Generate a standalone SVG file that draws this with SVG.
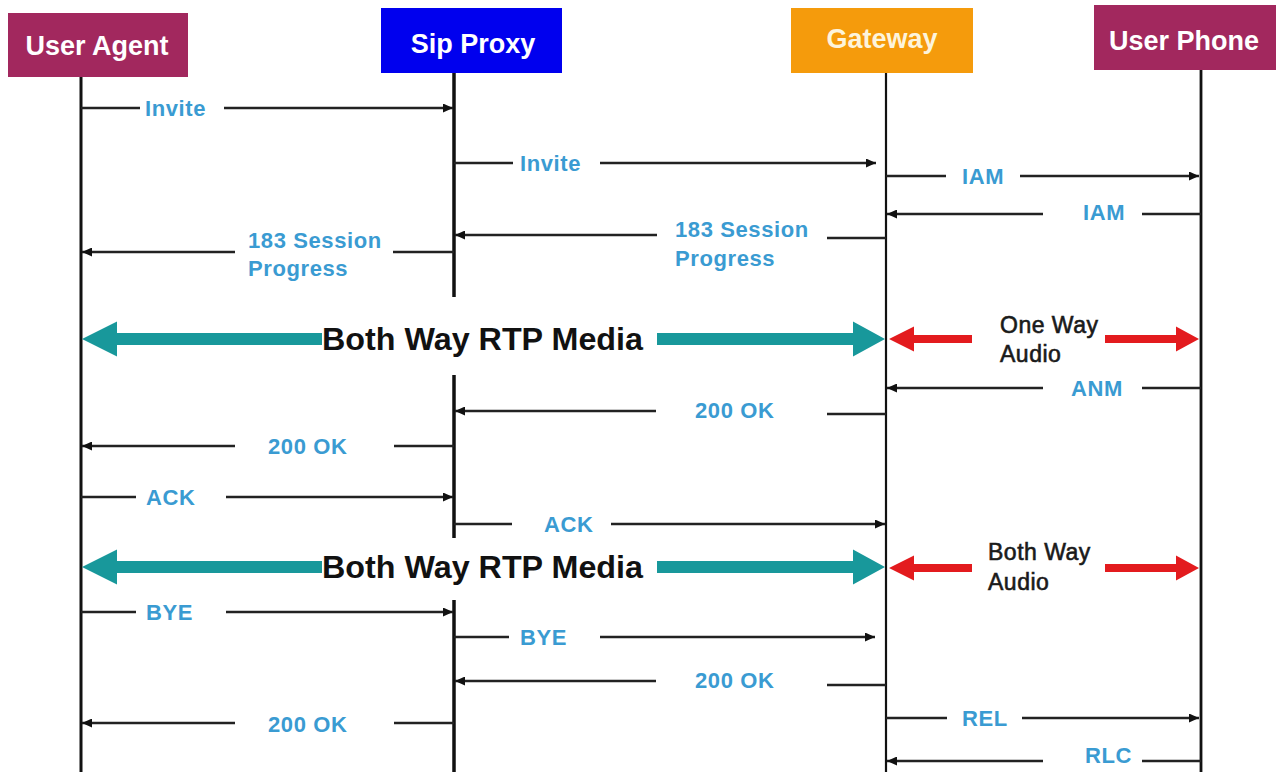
<svg xmlns="http://www.w3.org/2000/svg" width="1277" height="772" viewBox="0 0 1277 772">
<style>
.hdr{font-family:"Liberation Sans",Arial,sans-serif;font-weight:bold;font-size:27px;fill:#ffffff;text-anchor:middle}
.life{stroke:#111;fill:none}
.msg{stroke:#222;stroke-width:2.5;fill:none}
.lbl{font-family:"Liberation Sans",Arial,sans-serif;font-weight:bold;font-size:22px;letter-spacing:0.6px;fill:#3a9bd2}
.rtp{font-family:"Liberation Sans",Arial,sans-serif;font-weight:bold;font-size:32px;fill:#111}
.aud{font-family:"Liberation Sans",Arial,sans-serif;font-size:23px;letter-spacing:0.5px;fill:#1a1a1a;stroke:#1a1a1a;stroke-width:0.6}
.teal{fill:#18989b}
.red{fill:#e31b1e}
</style>
<defs>
<marker id="ah" markerUnits="userSpaceOnUse" markerWidth="10" markerHeight="9" refX="10" refY="4.5" orient="auto">
<path d="M0,0 L10,4.5 L0,9 z" fill="#111"/>
</marker>
</defs>
<rect width="1277" height="772" fill="#ffffff"/>

<g id="node-user-agent">
<rect x="8" y="13" width="180" height="64" fill="#a2285e"/>
<text class="hdr" x="97" y="55">User Agent</text>
<line class="life" x1="81" y1="77" x2="81" y2="772" stroke-width="3"/>
</g>

<g id="node-sip-proxy">
<rect x="381" y="8" width="181" height="65" fill="#0000ee"/>
<text class="hdr" x="473" y="53">Sip Proxy</text>
<line class="life" x1="454" y1="73" x2="454" y2="297" stroke-width="3.5"/>
<line class="life" x1="454" y1="375" x2="454" y2="538" stroke-width="3.5"/>
<line class="life" x1="454" y1="600" x2="454" y2="772" stroke-width="3.5"/>
</g>

<g id="node-gateway">
<rect x="791" y="8" width="182" height="65" fill="#f59b0c"/>
<text class="hdr" x="882" y="48" style="fill:#fdf4dc">Gateway</text>
<line class="life" x1="886" y1="73" x2="886" y2="772" stroke-width="2.2"/>
</g>

<g id="node-user-phone">
<rect x="1094" y="5" width="182" height="65" fill="#a2285e"/>
<text class="hdr" x="1184" y="50">User Phone</text>
<line class="life" x1="1201" y1="70" x2="1201" y2="772" stroke-width="2.8"/>
</g>

<g id="connectors">
<!-- 1 Invite UA->SP -->
<line class="msg" x1="81" y1="108" x2="140" y2="108"/>
<text class="lbl" x="145" y="116">Invite</text>
<line class="msg" x1="224" y1="108" x2="453" y2="108" marker-end="url(#ah)"/>
<!-- 2 Invite SP->GW -->
<line class="msg" x1="454" y1="163" x2="513" y2="163"/>
<text class="lbl" x="520" y="171">Invite</text>
<line class="msg" x1="600" y1="163" x2="876" y2="163" marker-end="url(#ah)"/>
<!-- 3 IAM GW->UP -->
<line class="msg" x1="886" y1="176" x2="946" y2="176"/>
<text class="lbl" x="962" y="184">IAM</text>
<line class="msg" x1="1020" y1="176" x2="1199" y2="176" marker-end="url(#ah)"/>
<!-- 4 IAM UP->GW -->
<line class="msg" x1="1201" y1="214" x2="1142" y2="214"/>
<text class="lbl" x="1083" y="220">IAM</text>
<line class="msg" x1="1043" y1="214" x2="887" y2="214" marker-end="url(#ah)"/>
<!-- 5 183 GW->SP -->
<line class="msg" x1="886" y1="238" x2="827" y2="238"/>
<text class="lbl" x="675" y="237">183 Session</text>
<text class="lbl" x="675" y="266">Progress</text>
<line class="msg" x1="657" y1="235" x2="455" y2="235" marker-end="url(#ah)"/>
<!-- 6 183 SP->UA -->
<line class="msg" x1="454" y1="252" x2="393" y2="252"/>
<text class="lbl" x="248" y="248">183 Session</text>
<text class="lbl" x="248" y="276">Progress</text>
<line class="msg" x1="235" y1="252" x2="82" y2="252" marker-end="url(#ah)"/>
<!-- 7 Both Way RTP Media 1 -->
<polygon class="teal" points="82,339 117,321.5 117,333 322,333 322,345 117,345 117,356.5"/>
<text class="rtp" x="322" y="350" textLength="321" lengthAdjust="spacingAndGlyphs">Both Way RTP Media</text>
<polygon class="teal" points="657,333 853,333 853,321.5 885,339 853,356.5 853,345 657,345"/>
<polygon class="red" points="889,339 914,326.5 914,335 972,335 972,343 914,343 914,351.5"/>
<polygon class="red" points="1105,335 1176,335 1176,326.5 1199,339 1176,351.5 1176,343 1105,343"/>
<text class="aud" x="1000" y="333">One Way</text>
<text class="aud" x="1000" y="362">Audio</text>
<!-- 8 ANM UP->GW -->
<line class="msg" x1="1201" y1="388" x2="1142" y2="388"/>
<text class="lbl" x="1071" y="396">ANM</text>
<line class="msg" x1="1043" y1="388" x2="887" y2="388" marker-end="url(#ah)"/>
<!-- 9 200 OK GW->SP -->
<line class="msg" x1="886" y1="414" x2="827" y2="414"/>
<text class="lbl" x="695" y="418">200 OK</text>
<line class="msg" x1="656" y1="411" x2="455" y2="411" marker-end="url(#ah)"/>
<!-- 10 200 OK SP->UA -->
<line class="msg" x1="454" y1="446" x2="394" y2="446"/>
<text class="lbl" x="268" y="454">200 OK</text>
<line class="msg" x1="235" y1="446" x2="82" y2="446" marker-end="url(#ah)"/>
<!-- 11 ACK UA->SP -->
<line class="msg" x1="81" y1="497" x2="136" y2="497"/>
<text class="lbl" x="146" y="505">ACK</text>
<line class="msg" x1="226" y1="497" x2="453" y2="497" marker-end="url(#ah)"/>
<!-- 12 ACK SP->GW -->
<line class="msg" x1="454" y1="524" x2="512" y2="524"/>
<text class="lbl" x="544" y="532">ACK</text>
<line class="msg" x1="611" y1="524" x2="885" y2="524" marker-end="url(#ah)"/>
<!-- 13 Both Way RTP Media 2 -->
<polygon class="teal" points="82,567 117,549.5 117,561 322,561 322,573 117,573 117,584.5"/>
<text class="rtp" x="322" y="578" textLength="321" lengthAdjust="spacingAndGlyphs">Both Way RTP Media</text>
<polygon class="teal" points="657,561 853,561 853,549.5 885,567 853,584.5 853,573 657,573"/>
<polygon class="red" points="889,568 914,555.5 914,564 972,564 972,572 914,572 914,580.5"/>
<polygon class="red" points="1105,564 1176,564 1176,555.5 1199,568 1176,580.5 1176,572 1105,572"/>
<text class="aud" x="988" y="560">Both Way</text>
<text class="aud" x="988" y="590">Audio</text>
<!-- 14 BYE UA->SP -->
<line class="msg" x1="81" y1="612" x2="136" y2="612"/>
<text class="lbl" x="146" y="620">BYE</text>
<line class="msg" x1="226" y1="612" x2="453" y2="612" marker-end="url(#ah)"/>
<!-- 15 BYE SP->GW -->
<line class="msg" x1="454" y1="637" x2="509" y2="637"/>
<text class="lbl" x="520" y="645">BYE</text>
<line class="msg" x1="600" y1="637" x2="875" y2="637" marker-end="url(#ah)"/>
<!-- 16 200 OK GW->SP -->
<line class="msg" x1="886" y1="685" x2="827" y2="685"/>
<text class="lbl" x="695" y="688">200 OK</text>
<line class="msg" x1="656" y1="681" x2="455" y2="681" marker-end="url(#ah)"/>
<!-- 17 200 OK SP->UA -->
<line class="msg" x1="454" y1="723" x2="394" y2="723"/>
<text class="lbl" x="268" y="732">200 OK</text>
<line class="msg" x1="235" y1="723" x2="82" y2="723" marker-end="url(#ah)"/>
<!-- 18 REL GW->UP -->
<line class="msg" x1="886" y1="718" x2="947" y2="718"/>
<text class="lbl" x="962" y="726">REL</text>
<line class="msg" x1="1022" y1="718" x2="1199" y2="718" marker-end="url(#ah)"/>
<!-- 19 RLC UP->GW -->
<line class="msg" x1="1201" y1="761" x2="1142" y2="761"/>
<text class="lbl" x="1085" y="763">RLC</text>
<line class="msg" x1="1043" y1="761" x2="887" y2="761" marker-end="url(#ah)"/>
</g>
</svg>
